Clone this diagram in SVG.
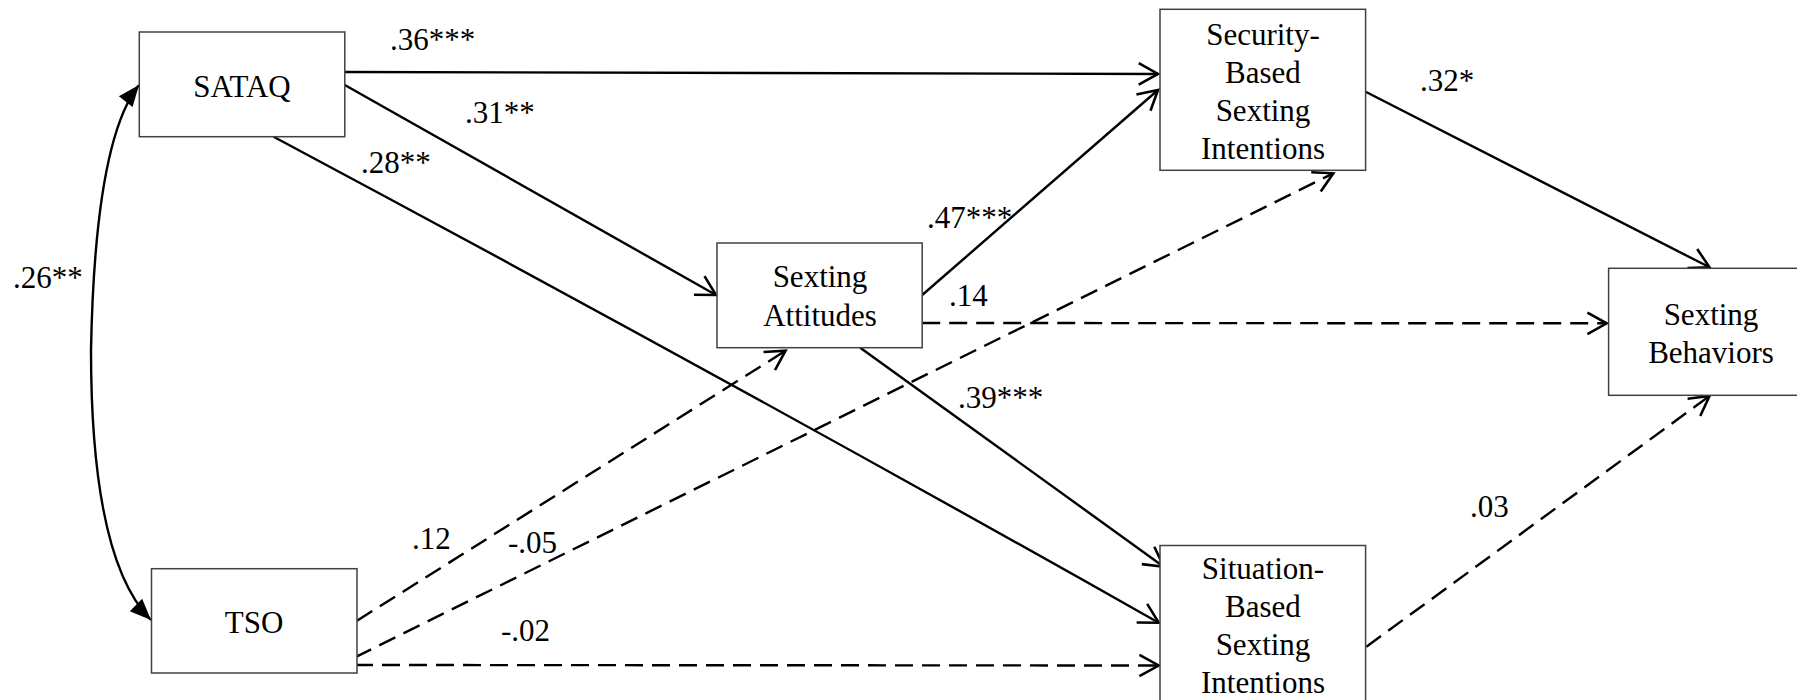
<svg xmlns="http://www.w3.org/2000/svg" width="1797" height="700" viewBox="0 0 1797 700">
<defs>
<style>
.box{fill:#fff;stroke:#404040;stroke-width:1.5}
.t{font-size:31px;fill:#000}
.c{text-anchor:middle}
.ln{fill:none;stroke:#000;stroke-width:2.4}
.d{stroke-dasharray:18 9}
</style>
<marker id="open" markerUnits="userSpaceOnUse" markerWidth="30" markerHeight="30" refX="0" refY="0" viewBox="-22 -14 26 28" orient="auto" overflow="visible">
<path d="M-18,-10 L0,0 L-18,10" fill="none" stroke="#000" stroke-width="2.4" stroke-dasharray="none"/>
</marker>
<marker id="fill" markerUnits="userSpaceOnUse" markerWidth="30" markerHeight="30" refX="0" refY="0" viewBox="-22 -10 24 20" orient="auto" overflow="visible">
<path d="M-17,-7 L0,0 L-17,7 Z" fill="#000" stroke="none"/>
</marker>
<marker id="fillStart" markerUnits="userSpaceOnUse" markerWidth="30" markerHeight="30" refX="0" refY="0" viewBox="-2 -10 24 20" orient="auto" overflow="visible">
<path d="M17,-7 L0,0 L17,7 Z" fill="#000" stroke="none"/>
</marker>
</defs>
<rect width="1797" height="700" fill="#fff"/>

<g id="connectors">
<path class="ln" d="M344.8,72 L1158,74" marker-end="url(#open)"/>
<path class="ln" d="M344.8,85 L716,295" marker-end="url(#open)"/>
<path class="ln" d="M273.6,136.7 Q720,375 1158.7,622.7" marker-end="url(#open)"/>
<path class="ln" d="M922.2,295 L1158,90" marker-end="url(#open)"/>
<path class="ln d" d="M922.2,323 L1606.7,323.3" marker-end="url(#open)"/>
<path class="ln" d="M860.2,347.7 L1163.7,566.7" marker-end="url(#open)"/>
<path class="ln" d="M1365.6,91.7 L1709.5,267.3" marker-end="url(#open)"/>
<path class="ln d" d="M1366.4,646.7 L1709.5,396" marker-end="url(#open)"/>
<path class="ln d" d="M357,620.7 L785.6,350.7" marker-end="url(#open)"/>
<path class="ln d" d="M355,657.3 L1333.3,173.3" marker-end="url(#open)"/>
<path class="ln d" d="M355,665 L1158.7,665.5" marker-end="url(#open)"/>
<path class="ln" d="M139,85 Q95,140 91,350 Q91,560 151,620" marker-start="url(#fillStart)" marker-end="url(#fill)"/>
</g>

<g id="labels" font-family="Liberation Serif, Tinos, Times New Roman, serif">
<text class="t" x="390" y="50">.36***</text>
<text class="t" x="465" y="123">.31**</text>
<text class="t" x="361" y="173">.28**</text>
<text class="t" x="13" y="288">.26**</text>
<text class="t" x="927" y="228">.47***</text>
<text class="t" x="949" y="306">.14</text>
<text class="t" x="958" y="408">.39***</text>
<text class="t" x="1420" y="91">.32*</text>
<text class="t" x="1470" y="517">.03</text>
<text class="t" x="412" y="549">.12</text>
<text class="t" x="508" y="553">-.05</text>
<text class="t" x="501" y="641">-.02</text>
</g>

<g id="nodes" font-family="Liberation Serif, Tinos, Times New Roman, serif">
<g id="node-sataq">
<rect class="box" x="139.3" y="32" width="205.5" height="104.7"/>
<text class="t c" x="242" y="97">SATAQ</text>
</g>
<g id="node-tso">
<rect class="box" x="151.5" y="568.7" width="205.5" height="104.3"/>
<text class="t c" x="254" y="633">TSO</text>
</g>
<g id="node-attitudes">
<rect class="box" x="717" y="243" width="205.2" height="104.7"/>
<text class="t c" x="820" y="287">Sexting</text>
<text class="t c" x="820" y="326">Attitudes</text>
</g>
<g id="node-security">
<rect class="box" x="1160" y="9.3" width="205.6" height="161"/>
<text class="t c" x="1263" y="45">Security-</text>
<text class="t c" x="1263" y="83">Based</text>
<text class="t c" x="1263" y="121">Sexting</text>
<text class="t c" x="1263" y="159">Intentions</text>
</g>
<g id="node-situation">
<rect class="box" x="1160" y="545.5" width="205.6" height="170"/>
<text class="t c" x="1263" y="579">Situation-</text>
<text class="t c" x="1263" y="617">Based</text>
<text class="t c" x="1263" y="655">Sexting</text>
<text class="t c" x="1263" y="693">Intentions</text>
</g>
<g id="node-behaviors">
<rect class="box" x="1608.6" y="268.3" width="210" height="127"/>
<text class="t c" x="1711" y="325">Sexting</text>
<text class="t c" x="1711" y="363">Behaviors</text>
</g>
</g>
</svg>
